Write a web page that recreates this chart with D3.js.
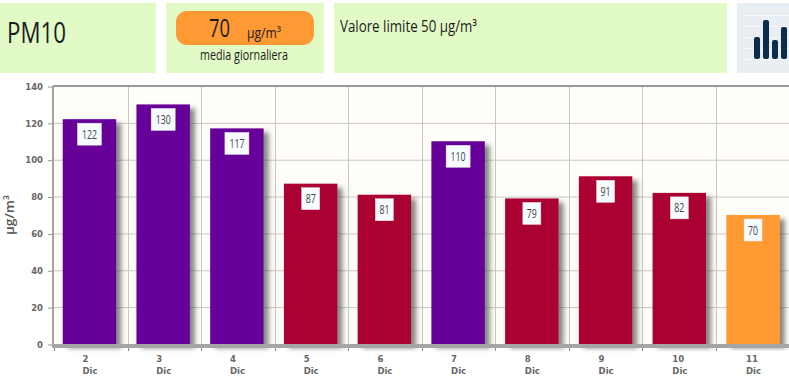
<!DOCTYPE html>
<html>
<head>
<meta charset="utf-8">
<script src="https://cdn.jsdelivr.net/npm/d3@7"></script>
<style>
  html, body { margin: 0; padding: 0; background: #fff; overflow: hidden; }
  .narrow { font-family: "Open Sans", sans-serif; fill: #1c1c1c; }
  .axis text { font-family: "DejaVu Sans", sans-serif; font-weight: bold; fill: #666; }
</style>
</head>
<body>
<div id="chart"></div>
<script>
// dati
const days = ['2', '3', '4', '5', '6', '7', '8', '9', '10', '11'];
const month = 'Dic';
const values = [122, 130, 117, 87, 81, 110, 79, 91, 82, 70];
const barColors = ['#660099', '#660099', '#660099', '#aa0033', '#aa0033', '#660099', '#aa0033', '#aa0033', '#aa0033', '#ff9933'];
const yTicks = [0, 20, 40, 60, 80, 100, 120, 140];
const iconBars = [22, 39, 19, 32];

const svg = d3.select('#chart').append('svg')
    .attr('width', 789)
    .attr('height', 389)
    .style('display', 'block');

// ombra delle barre
const shadow = svg.append('defs').append('filter')
    .attr('id', 'shadow')
    .attr('x', '-10%').attr('width', '130%')
    .attr('y', '-5%').attr('height', '110%');
shadow.append('feDropShadow')
    .attr('dx', 5).attr('dy', 4)
    .attr('stdDeviation', 2.5)
    .attr('flood-color', '#444')
    .attr('flood-opacity', 0.65);

// pannelli in alto
const panels = [
    { x: 0, w: 156, fill: '#e2fac6' },
    { x: 166, w: 158, fill: '#e2fac6' },
    { x: 334, w: 393, fill: '#e2fac6' },
    { x: 737, w: 52, fill: '#e9eef2' }
];
svg.selectAll('.panel')
    .data(panels)
    .join('rect')
    .attr('class', 'panel')
    .attr('x', d => d.x)
    .attr('y', 3)
    .attr('width', d => d.w)
    .attr('height', 70)
    .attr('fill', d => d.fill);

// testo stretto: il font condensato non c'e', lo comprimo con textLength
function narrowText(txt, px, baseline, size, len) {
    return svg.append('text').attr('class', 'narrow')
        .attr('x', px).attr('y', baseline)
        .attr('textLength', len)
        .attr('lengthAdjust', 'spacingAndGlyphs')
        .style('font-size', size + 'px')
        .text(txt);
}

narrowText('PM10', 7, 43, 30, 59);

svg.append('rect')
    .attr('x', 176).attr('y', 11)
    .attr('width', 138).attr('height', 34)
    .attr('rx', 11)
    .attr('fill', '#ff9933');
narrowText('70', 209, 37, 25, 21);
narrowText('µg/m³', 247, 38, 14, 34);
narrowText('media giornaliera', 200, 60, 15, 88);
narrowText('Valore limite 50 µg/m³', 340, 32, 16, 137);

// icona in alto a destra
const iconX = d3.scaleBand().domain(d3.range(iconBars.length)).range([754, 787]).paddingInner(0.33);
const iconY = d3.scaleLinear().domain([0, 39]).range([59, 20]);
svg.selectAll('.icon-line')
    .data([0, 1, 2, 3, 4])
    .join('line')
    .attr('x1', 745).attr('x2', 789)
    .attr('y1', d => 15.5 + d * 11).attr('y2', d => 15.5 + d * 11)
    .attr('stroke', '#f7f9fa');
svg.selectAll('.icon-bar')
    .data(iconBars)
    .join('rect')
    .attr('class', 'icon-bar')
    .attr('x', (d, i) => iconX(i))
    .attr('y', d => iconY(d))
    .attr('width', iconX.bandwidth())
    .attr('height', d => iconY(0) - iconY(d))
    .attr('rx', 2)
    .attr('fill', '#0c2c4c');

// scale del grafico
const plotLeft = 54, plotRight = 789, plotTop = 86, plotBottom = 344;
const x = d3.scaleBand().domain(days).range([plotLeft - 0.5, plotRight]).paddingInner(0.275).paddingOuter(0.125);
const step = (plotRight - plotLeft) / days.length;
const y = d3.scaleLinear().domain([0, 140]).range([plotBottom, plotTop]);

// sfondo e griglia
svg.append('rect')
    .attr('x', plotLeft).attr('y', plotTop)
    .attr('width', plotRight - plotLeft).attr('height', plotBottom - plotTop)
    .attr('fill', '#fffdf7');

svg.append('g')
    .selectAll('line')
    .data(yTicks.slice(1, -1))
    .join('line')
    .attr('x1', plotLeft).attr('x2', plotRight)
    .attr('y1', d => y(d) + 0.5).attr('y2', d => y(d) + 0.5)
    .attr('stroke', '#c8c6c0');

svg.append('g')
    .selectAll('line')
    .data(days.slice(1))
    .join('line')
    .attr('x1', (d, i) => Math.round(plotLeft + step * (i + 1)) + 0.5)
    .attr('x2', (d, i) => Math.round(plotLeft + step * (i + 1)) + 0.5)
    .attr('y1', plotTop).attr('y2', plotBottom)
    .attr('stroke', '#c8c6c0');

// barre
svg.selectAll('.bar')
    .data(values)
    .join('rect')
    .attr('class', 'bar')
    .attr('x', (d, i) => x(days[i]))
    .attr('y', d => y(d))
    .attr('width', x.bandwidth())
    .attr('height', d => plotBottom - y(d))
    .attr('fill', (d, i) => barColors[i])
    .attr('filter', 'url(#shadow)');

// bordi del grafico
svg.append('line')
    .attr('x1', plotLeft - 1).attr('x2', plotRight)
    .attr('y1', plotTop).attr('y2', plotTop)
    .attr('stroke', '#999').attr('stroke-width', 2);
svg.append('line')
    .attr('x1', plotLeft - 1).attr('x2', plotLeft - 1)
    .attr('y1', plotTop).attr('y2', plotBottom + 3)
    .attr('stroke', '#a5a49c').attr('stroke-width', 2);
svg.append('line')
    .attr('x1', plotLeft - 2).attr('x2', plotRight)
    .attr('y1', plotBottom + 2).attr('y2', plotBottom + 2)
    .attr('stroke', '#a5a5a5').attr('stroke-width', 4);

// etichette dei valori
const labels = svg.selectAll('.value')
    .data(values)
    .join('g')
    .attr('class', 'value')
    .attr('transform', (d, i) => `translate(${x(days[i]) + x.bandwidth() / 2},${y(d) + 4})`);
labels.append('rect')
    .attr('x', d => d >= 100 ? -12 : -9)
    .attr('width', d => d >= 100 ? 24 : 18)
    .attr('height', 22)
    .attr('fill', '#f6fbfd')
    .attr('stroke', '#e4e4e4')
    .attr('stroke-width', 0.5);
labels.append('text')
    .attr('class', 'narrow')
    .attr('x', d => d >= 100 ? -7.5 : -5)
    .attr('y', 15.5)
    .attr('textLength', d => d >= 100 ? 15 : 10)
    .attr('lengthAdjust', 'spacingAndGlyphs')
    .style('font-size', '12.5px')
    .style('fill', '#444')
    .text(d => d);

// assi
const yAxis = svg.append('g')
    .attr('class', 'axis')
    .attr('transform', `translate(${plotLeft - 1},0.5)`)
    .call(d3.axisLeft(y).tickValues(yTicks).tickSize(5).tickPadding(5));
yAxis.select('.domain').remove();
yAxis.selectAll('line').attr('stroke', '#999');
yAxis.selectAll('text').style('font-size', '8.5px');

const xAxis = svg.append('g')
    .attr('class', 'axis')
    .attr('transform', `translate(0,${plotBottom + 3})`)
    .call(d3.axisBottom(x).tickSize(0).tickPadding(9));
xAxis.select('.domain').remove();
xAxis.selectAll('line').remove();
xAxis.selectAll('text')
    .style('font-size', '8.5px')
    .attr('text-anchor', 'start')
    .each(function(d) {
        const t = d3.select(this);
        t.text(null);
        t.append('tspan').attr('x', -7).attr('dy', '0.71em').text(d);
        t.append('tspan').attr('x', -7).attr('dy', '12px').text(month);
    });

svg.append('g')
    .selectAll('line')
    .data(d3.range(days.length))
    .join('line')
    .attr('x1', d => Math.round(plotLeft + step * d) + 0.5)
    .attr('x2', d => Math.round(plotLeft + step * d) + 0.5)
    .attr('y1', plotBottom + 4).attr('y2', plotBottom + 7)
    .attr('stroke', '#888');

// titolo asse y
svg.append('text')
    .attr('transform', 'rotate(-90)')
    .attr('x', -235).attr('y', 13.5)
    .attr('textLength', 40)
    .attr('lengthAdjust', 'spacingAndGlyphs')
    .style('font-family', '"Open Sans", sans-serif')
    .style('font-size', '12.5px')
    .style('font-weight', '600')
    .style('fill', '#555')
    .text('µg/m³');
</script>
</body>
</html>
